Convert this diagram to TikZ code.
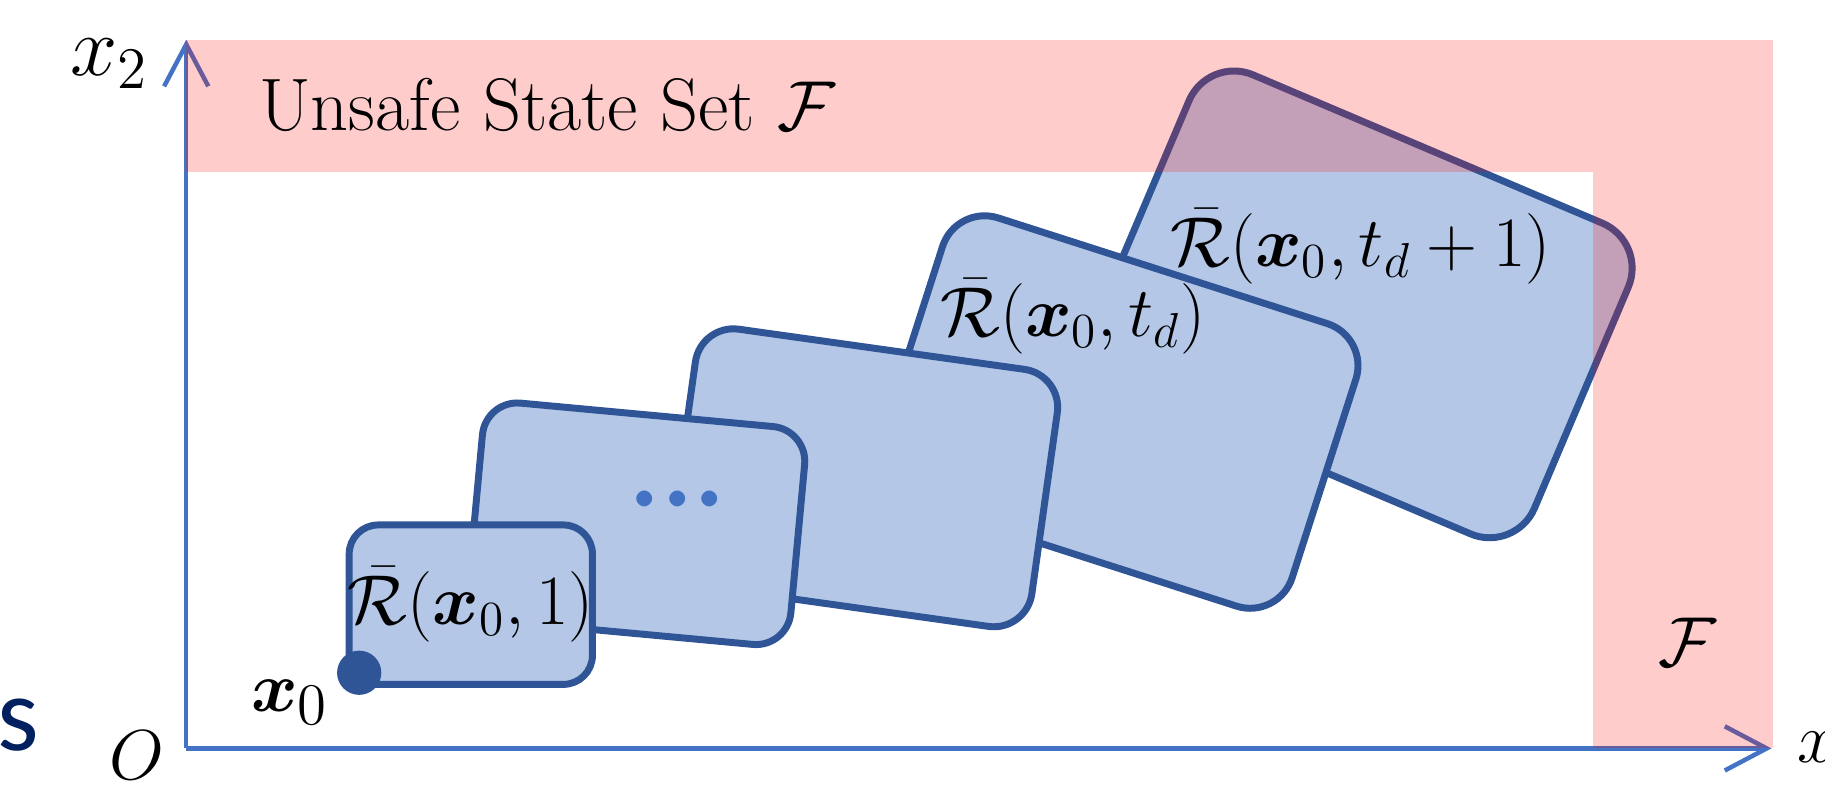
\documentclass[tikz,border=0pt]{standalone}
\usepackage{bm}
\usepackage{fontspec}
\newfontfamily\slidefont{Carlito}
\usetikzlibrary{arrows.meta}

\definecolor{RSaxisc}{RGB}{68,114,196}
\definecolor{RSlinec}{RGB}{47,85,151}
\definecolor{RSfillc}{RGB}{180,199,231}
\definecolor{RSnavyc}{RGB}{0,32,96}

\tikzset{RSaxis/.style={draw=RSaxisc,line width=1.1pt,-{Straight Barb[length=3.6mm,width=3.8mm]}},
         RSbox/.style={draw=RSlinec,fill=RSfillc,line width=1.7pt,rounded corners=#1},
         RSunsafe/.style={fill=red,fill opacity=0.2},
         RSlab/.style={inner sep=0pt,font=\fontsize{17}{20}\selectfont},
         RSbig/.style={inner sep=0pt,font=\fontsize{19}{22}\selectfont}}

\begin{document}
\begin{tikzpicture}
  \useasboundingbox (0,0) rectangle (15.68,6.77);
  % axes
  \coordinate (O) at (1.60,0.34);
  \coordinate (xend) at (15.22,0.34);
  \coordinate (yend) at (1.60,6.43);
  \draw[RSaxis] (O) -- (xend);
  \draw[RSaxis] (O) -- (yend);
  % reachable sets, back to front
  \node[RSbox=4.2mm,minimum width=4.10cm,minimum height=2.90cm,rotate=-23] (r5) at (11.70,4.155) {};
  \node[RSbox=3.8mm,minimum width=3.73cm,minimum height=2.55cm,rotate=-17.8] (r4) at (9.60,3.23) {};
  \node[RSbox=3.3mm,minimum width=3.14cm,minimum height=2.23cm,rotate=-8] (r3) at (7.42,2.665) {};
  \node[RSbox=3mm,minimum width=2.78cm,minimum height=1.88cm,rotate=-5.3] (r2) at (5.47,2.27) {};
  \node[RSbox=2.5mm,minimum width=2.09cm,minimum height=1.37cm] (r1) at (4.045,1.575) {};
  \node[circle,fill=RSlinec,minimum size=3.8mm,inner sep=0pt] (x0) at (3.086,0.99) {};
  % unsafe set
  \fill[RSunsafe] (1.60,5.29) rectangle (15.23,6.43);
  \fill[RSunsafe] (13.69,0.34) rectangle (15.23,5.29);
  % labels
  \node[inner sep=0pt,font=\fontsize{18.2}{21}\selectfont,anchor=base west] (unsafe) at (2.22,5.65) {Unsafe State Set $\mathcal{F}$};
  \node[RSlab] (F) at (14.50,1.25) {$\mathcal{F}$};
  \node[RSlab] (l1) at (r1) {$\bar{\mathcal{R}}(\bm{x}_0,1)$};
  \node[RSlab] (ltd) at (9.22,4.05) {$\bar{\mathcal{R}}(\bm{x}_0,t_d)$};
  \node[RSlab] (ltd1) at (11.69,4.65) {$\bar{\mathcal{R}}(\bm{x}_0,t_d+1)$};
  \node[inner sep=0pt,font=\fontsize{27}{30}\selectfont,text=RSaxisc] (ell) at (5.82,2.47)
     {$\mathord{\bm{\cdot}}\mathord{\bm{\cdot}}\mathord{\bm{\cdot}}$};
  \node[inner sep=0pt,font=\fontsize{21}{24}\selectfont,anchor=base west] (lx2) at (0.60,6.12) {$x_2$};
  \node[RSbig,anchor=base west] (lx1) at (15.44,0.22) {$x_1$};
  \node[RSbig,anchor=base west] (lx0) at (2.15,0.66) {$\bm{x}_0$};
  \node[RSbig,anchor=base west] (lO) at (0.93,0.07) {$O$};
  \node[anchor=base west,inner sep=0pt,text=RSnavyc,font=\slidefont\fontsize{26}{30}\selectfont] (frag) at (-0.03,0.32) {s};
\end{tikzpicture}
\end{document}
